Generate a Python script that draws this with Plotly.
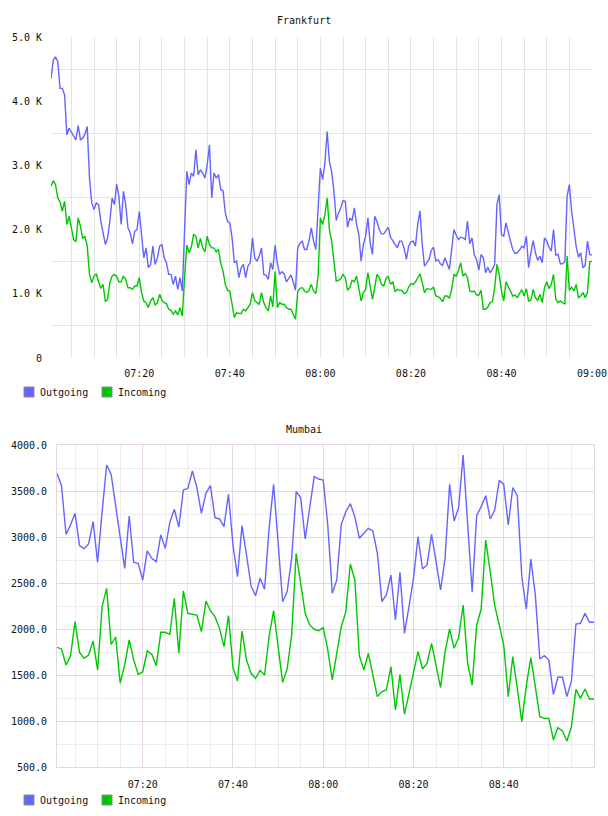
import pandas as pd
import plotly.graph_objects as go

# ---------------- data ----------------
series_names = ["Outgoing", "Incoming"]
series_colors = ["#6464ff", "#00c800"]

# Frankfurt: 30-second samples, 07:00:30 .. 09:00:00
fra_outgoing = [
    4355, 4640, 4692, 4614, 4200, 4200, 4097, 3476, 3579, 3517,
    3450, 3398, 3621, 3398, 3424, 3486, 3605, 2803, 2415, 2311,
    2415, 2389, 2130, 1923, 1768, 1872, 2130, 2493, 2389, 2710,
    2518, 2079, 2596, 2389, 2027, 1949, 1778, 1975, 2001, 2286,
    1872, 1561, 1716, 1406, 1458, 1742, 1458, 1561, 1742, 1768,
    1561, 1483, 1302, 1302, 1147, 1276, 1069, 1251, 1044, 1975,
    2907, 2700, 2881, 2829, 3243, 2855, 2932, 2881, 2803, 3010,
    3320, 2493, 2881, 2803, 2855, 2622, 2606, 2260, 2130, 2105,
    1872, 1483, 1509, 1251, 1406, 1458, 1251, 1432, 1483, 1872,
    1561, 1509, 1587, 1716, 1302, 1292, 1225, 1483, 1380, 1758,
    1468, 1302, 1344, 1313, 1188, 1235, 1292, 1188, 1054, 1716,
    1789, 1820, 1690, 1690, 1830, 2027, 1820, 1690, 2286, 2958,
    2777, 3036, 3528, 3062, 2896, 2596, 2141, 2260, 2337, 2451,
    2441, 2037, 2182, 2141, 2337, 2079, 1923, 1509, 1768, 1897,
    2182, 1794, 1613, 2208, 2130, 2001, 1934, 1934, 1985, 2037,
    1882, 1830, 1768, 1716, 1820, 1820, 1706, 1535, 1742, 1809,
    1820, 1742, 2079, 2290, 1768, 1432, 1483, 1535, 1675, 1727,
    1509, 1535, 1468, 1442, 1561, 1483, 1380, 1690, 2001, 1913,
    1846, 1882, 1872, 1846, 2130, 1778, 1872, 1602, 1535, 1370,
    1613, 1561, 1328, 1416, 1328, 1380, 1458, 2389, 2544, 1923,
    1897, 2104, 1934, 1820, 1690, 1628, 1639, 1680, 1742, 1716,
    1897, 1406, 1639, 1830, 1639, 1520, 1587, 1483, 1872, 1820,
    1727, 1664, 2001, 1602, 1613, 1468, 1468, 1499, 2518, 2700,
    2286, 1975, 1737, 1571, 1639, 1406, 1447, 1820, 1613, 1602,
]
fra_incoming = [
    2674, 2762, 2700, 2493, 2430, 2286, 2441, 2079, 2208, 2016,
    1846, 1809, 2182, 2053, 1861, 1897, 1742, 1302, 1173, 1276,
    1313, 1188, 1085, 1147, 878, 914, 1173, 1276, 1302, 1276,
    1188, 1188, 1276, 1225, 1095, 1095, 1069, 1121, 1121, 1251,
    1018, 888, 862, 785, 888, 940, 826, 862, 992, 899,
    862, 847, 759, 743, 681, 733, 671, 785, 655, 1251,
    1758, 1639, 1727, 1923, 1897, 1716, 1861, 1716, 1654, 1897,
    1768, 1716, 1716, 1654, 1690, 1473, 1354, 1147, 1054, 1044,
    811, 630, 707, 692, 692, 759, 733, 785, 837, 1018,
    899, 862, 837, 1018, 862, 785, 733, 966, 795, 1350,
    785, 862, 837, 837, 785, 759, 759, 681, 604, 1033,
    1085, 1095, 1044, 1018, 1054, 1147, 1044, 1002, 1276, 2182,
    2079, 2234, 2493, 2001, 1809, 1509, 1199, 1209, 1235, 1302,
    1251, 1054, 1095, 1209, 1188, 1276, 1095, 888, 1018, 1069,
    1328, 1095, 914, 1095, 1302, 1251, 1147, 1121, 1235, 1276,
    1147, 1188, 1033, 1069, 1054, 1054, 1002, 1018, 1106, 1157,
    1147, 1183, 1261, 1313, 1173, 1018, 1080, 1069, 1069, 1106,
    966, 955, 930, 878, 966, 966, 930, 1069, 1302, 1276,
    1364, 1483, 1276, 1313, 1251, 1044, 1033, 1044, 981, 981,
    1054, 759, 759, 795, 862, 878, 1095, 1458, 1302, 1044,
    888, 1188, 1121, 1044, 966, 981, 940, 1002, 1064, 966,
    1080, 888, 899, 1069, 940, 899, 992, 862, 1095, 1188,
    1080, 1147, 1302, 914, 862, 888, 868, 837, 1587, 1054,
    1106, 1044, 1147, 940, 966, 1018, 940, 1018, 1499, 1509,
]

# Mumbai: 1-minute samples, 07:01 .. 09:00
mum_outgoing = [
    3692, 3558, 3029, 3130, 3257, 2906, 2873, 2924, 3167, 2725,
    3275, 3783, 3681, 3348, 3004, 2659, 3228, 2725, 2710, 2533,
    2848, 2768, 2732, 3022, 2877, 3159, 3301, 3109, 3511, 3529,
    3717, 3536, 3257, 3475, 3558, 3210, 3196, 3112, 3464, 2913,
    2569, 3123, 2804, 2471, 2362, 2551, 2431, 3094, 3572, 2949,
    2297, 2406, 2768, 3493, 3428, 2978, 3312, 3656, 3630, 3620,
    3130, 2388, 2533, 3138, 3275, 3362, 3221, 2986, 3040, 3094,
    3065, 2822, 2297, 2370, 2587, 2098, 2616, 1953, 2243, 2551,
    3004, 2652, 2696, 3029, 2732, 2424, 2768, 3572, 3174, 3319,
    3891, 3130, 2399, 3232, 3330, 3449, 3196, 3293, 3616, 3572,
    3130, 3536, 3449, 2569, 2217, 2761, 2370, 1674, 1710, 1663,
    1290, 1475, 1475, 1265, 1435, 2054, 2062, 2170, 2073, 2073,
]
mum_incoming = [
    1801, 1783, 1609, 1710, 2080, 1746, 1681, 1717, 1870, 1554,
    2243, 2442, 1833, 1913, 1410, 1609, 1881, 1663, 1507, 1536,
    1761, 1725, 1602, 1964, 1964, 1942, 2333, 1736, 2413, 2170,
    2160, 2152, 1971, 2304, 2199, 2134, 2007, 1808, 2145, 1580,
    1435, 1978, 1663, 1518, 1464, 1551, 1500, 1917, 2199, 1797,
    1420, 1565, 1935, 2822, 2478, 2170, 2044, 1997, 1982, 2015,
    1772, 1446, 1736, 2025, 2189, 2707, 2533, 1710, 1554, 1736,
    1500, 1265, 1319, 1337, 1591, 1120, 1507, 1073, 1301, 1536,
    1754, 1565, 1627, 1844, 1609, 1362, 1754, 2000, 1790, 1906,
    2261, 1627, 1391, 2044, 2217, 2967, 2623, 2254, 2044, 1826,
    1265, 1699, 1355, 993, 1384, 1689, 1373, 1047, 1029, 1029,
    794, 928, 891, 783, 939, 1344, 1246, 1348, 1239, 1239,
]

fra_times = pd.date_range("2024-01-01 07:00:30", periods=len(fra_outgoing), freq="30s")
mum_times = pd.date_range("2024-01-01 07:01:00", periods=len(mum_outgoing), freq="60s")

fra_yticks = [0, 1000, 2000, 3000, 4000, 5000]
fra_yticktext = ["0", "1.0 K", "2.0 K", "3.0 K", "4.0 K", "5.0 K"]
mum_yticks = [500, 1000, 1500, 2000, 2500, 3000, 3500, 4000]

# ---------------- styling ----------------
W, H = 608, 816
FONT = "DejaVu Sans Mono"
GRID = "#e4e4e4"
MUM_MAJOR = "#e8d4e8"
MUM_MINOR = "#ececec"
TXT = "#111111"

def px(x):
    return x / W

def py(y):
    return 1 - y / H

fig = go.Figure()
for vals, name, col in zip([fra_outgoing, fra_incoming], series_names, series_colors):
    fig.add_trace(go.Scatter(x=fra_times, y=vals, mode="lines", name=name,
                             line=dict(color=col, width=1.4), showlegend=False,
                             xaxis="x", yaxis="y"))
for vals, name, col in zip([mum_outgoing, mum_incoming], series_names, series_colors):
    fig.add_trace(go.Scatter(x=mum_times, y=vals, mode="lines", name=name,
                             line=dict(color=col, width=1.4), showlegend=False,
                             xaxis="x2", yaxis="y2"))

tickfont = dict(family=FONT, size=10, color=TXT)
MIN5 = 5 * 60 * 1000
MIN20 = 20 * 60 * 1000
fra_range = [fra_times[0].strftime("%Y-%m-%d %H:%M:%S"), fra_times[-1].strftime("%Y-%m-%d %H:%M:%S")]
mum_range = [mum_times[0].strftime("%Y-%m-%d %H:%M:%S"), mum_times[-1].strftime("%Y-%m-%d %H:%M:%S")]

fig.update_layout(
    width=W, height=H, margin=dict(l=0, r=0, t=0, b=0, autoexpand=False),
    paper_bgcolor="white", plot_bgcolor="white", showlegend=False,
    xaxis=dict(domain=[px(51), px(592)], range=fra_range, autorange=False,
               type="date", tickmode="linear", tick0="2024-01-01 07:00", dtick=MIN20,
               tickformat="%H:%M", showgrid=True, gridcolor=GRID, gridwidth=1,
               minor=dict(tickmode="linear", tick0="2024-01-01 07:00", dtick=MIN5,
                          showgrid=True, gridcolor=GRID, gridwidth=1),
               ticks="", ticklabelstandoff=8, showline=False, zeroline=False,
               automargin=False, tickfont=tickfont, anchor="y"),
    yaxis=dict(domain=[py(358), py(37)], range=[0, 5000], autorange=False,
               tickmode="array", tickvals=fra_yticks, ticktext=fra_yticktext,
               showgrid=False,
               minor=dict(tickmode="linear", tick0=500, dtick=1000,
                          showgrid=True, gridcolor=GRID, gridwidth=1),
               ticks="", ticklabelstandoff=8, showline=False, zeroline=False,
               automargin=False, tickfont=tickfont, anchor="x"),
    xaxis2=dict(domain=[px(57), px(594)], range=mum_range, autorange=False,
                type="date", tickmode="linear", tick0="2024-01-01 07:00", dtick=MIN20,
                tickformat="%H:%M", showgrid=True, gridcolor=MUM_MAJOR, gridwidth=1,
                minor=dict(tickmode="linear", tick0="2024-01-01 07:00", dtick=MIN5,
                           showgrid=True, gridcolor=MUM_MINOR, gridwidth=1),
                ticks="", ticklabelstandoff=8, showline=True, linecolor=MUM_MAJOR,
                linewidth=1, mirror=True, zeroline=False,
                automargin=False, tickfont=tickfont, anchor="y2"),
    yaxis2=dict(domain=[py(767), py(445)], range=[500, 4000], autorange=False,
                tickmode="array", tickvals=mum_yticks, tickformat=".1f",
                showgrid=True, gridcolor=MUM_MAJOR, gridwidth=1,
                minor=dict(tickmode="linear", tick0=750, dtick=500,
                           showgrid=True, gridcolor=MUM_MINOR, gridwidth=1),
                ticks="", ticklabelstandoff=7, showline=True, linecolor=MUM_MAJOR,
                linewidth=1, mirror=True, zeroline=False,
                automargin=False, tickfont=tickfont, anchor="x2"),
)

titles = ["Frankfurt", "Mumbai"]
title_y = [20, 429]
legend_y = [392, 800]
annotations = []
shapes = []
for t, ty in zip(titles, title_y):
    annotations.append(dict(text=t, x=0.5, y=py(ty), xref="paper", yref="paper",
                            xanchor="center", yanchor="middle", showarrow=False,
                            font=dict(family=FONT, size=10, color=TXT)))
sq_x = [24, 102]
for ly in legend_y:
    for sx, name, col in zip(sq_x, series_names, series_colors):
        shapes.append(dict(type="rect", xref="paper", yref="paper",
                           x0=px(sx), x1=px(sx + 10), y0=py(ly + 5), y1=py(ly - 5),
                           fillcolor=col, line=dict(color="#8c8c8c", width=1)))
        annotations.append(dict(text=name, x=px(sx + 14), y=py(ly), xref="paper",
                                yref="paper", xanchor="left", yanchor="middle",
                                showarrow=False,
                                font=dict(family=FONT, size=10, color=TXT)))
fig.update_layout(annotations=annotations, shapes=shapes)

fig.write_html("out.html")
